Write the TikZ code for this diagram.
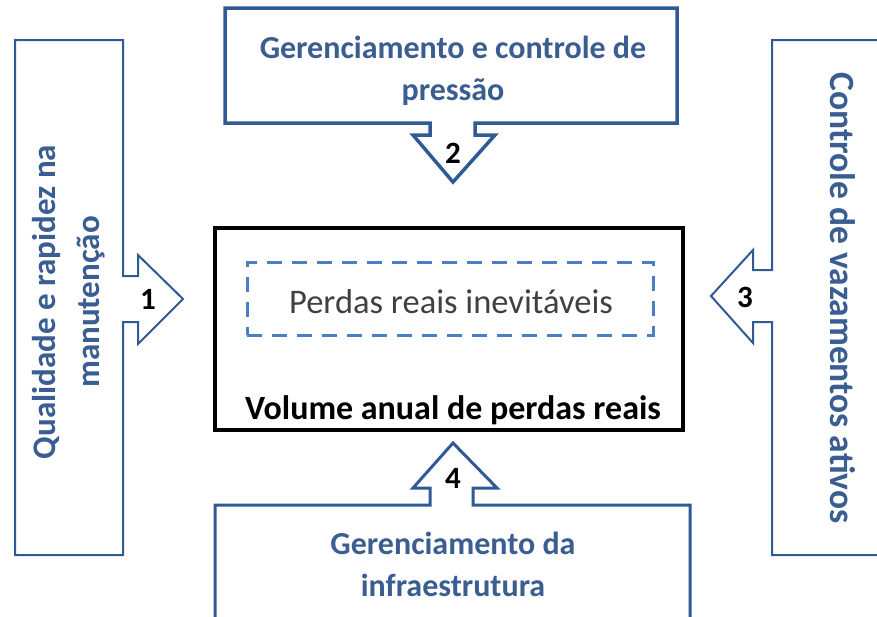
\documentclass[tikz,border=0pt]{standalone}
\usepackage{fontspec}
\setmainfont{Carlito}
\definecolor{boxblue}{HTML}{2F5A96}
\definecolor{txtblue}{HTML}{3A5D92}
\definecolor{dashblue}{HTML}{4A7FC8}
\definecolor{graytxt}{HTML}{404040}
\begin{document}
\begin{tikzpicture}[x=1pt,y=-1pt,
  arrowbox/.style={draw=boxblue,line join=miter,fill=white},
  bluetext/.style={text=txtblue,font=\fontsize{32}{42}\selectfont\bfseries,align=center,inner sep=0pt},
  numtext/.style={font=\fontsize{31}{36}\selectfont\bfseries,text=black,inner sep=0pt}]
\useasboundingbox (0,0) rectangle (877,616);
\clip (0,0) rectangle (877,616);
% left box with arrow 1
\draw[arrowbox,line width=2pt] (15,40) -- (123,40) -- (123,276) -- (138,276) -- (138,255) -- (183,299) -- (138,344) -- (138,322) -- (123,322) -- (123,555) -- (15,555) -- cycle;
% right box with arrow 3
\draw[arrowbox,line width=2pt] (885,40) -- (772,40) -- (772,270) -- (753,270) -- (753,250) -- (711,296) -- (753,343) -- (753,322) -- (772,322) -- (772,555) -- (885,555);
% top box with arrow 2
\draw[arrowbox,line width=3.5pt] (225,8) -- (677,8) -- (677,123) -- (475,123) -- (475,135) -- (495,135) -- (453,182) -- (413,135) -- (430,135) -- (430,123) -- (225,123) -- cycle;
% bottom box with arrow 4
\draw[arrowbox,line width=3pt] (215,620) -- (215,505) -- (430,505) -- (430,488) -- (413,488) -- (453,443) -- (497,488) -- (473,488) -- (473,505) -- (690,505) -- (690,620);
% centre box
\node[draw=black,line width=4pt,minimum width=468pt,minimum height=202pt,inner sep=0pt] (centre) at (449,329) {};
\node[draw=dashblue,line width=3pt,dash pattern=on 15pt off 10pt,minimum width=406pt,minimum height=73pt,inner sep=0pt] (inev) at (450,298.5) {};
\node[text=graytxt,font=\fontsize{34.5}{40}\selectfont,inner sep=0pt] (inevtxt) at (451,302) {Perdas reais inevitáveis};
\node[text=black,font=\fontsize{34}{40}\selectfont\bfseries,inner sep=0pt] (vol) at (453,410) {Volume anual de perdas reais};
% texts
\node[bluetext] (t2) at (453,71) {Gerenciamento e controle de\\pressão};
\node[bluetext] (t4) at (453,564) {Gerenciamento da\\infraestrutura};
\node[bluetext,font=\fontsize{33}{44}\selectfont\bfseries,rotate=90] (t1) at (69,302) {Qualidade e rapidez na\\manutenção};
\node[bluetext,font=\fontsize{35.5}{42}\selectfont\bfseries,rotate=-90] (t3) at (843,298) {Controle de vazamentos ativos};
% numbers
\node[numtext] (n1) at (148,299) {1};
\node[numtext] (n2) at (453,153) {2};
\node[numtext] (n3) at (745,297) {3};
\node[numtext] (n4) at (453,478) {4};
\end{tikzpicture}
\end{document}
